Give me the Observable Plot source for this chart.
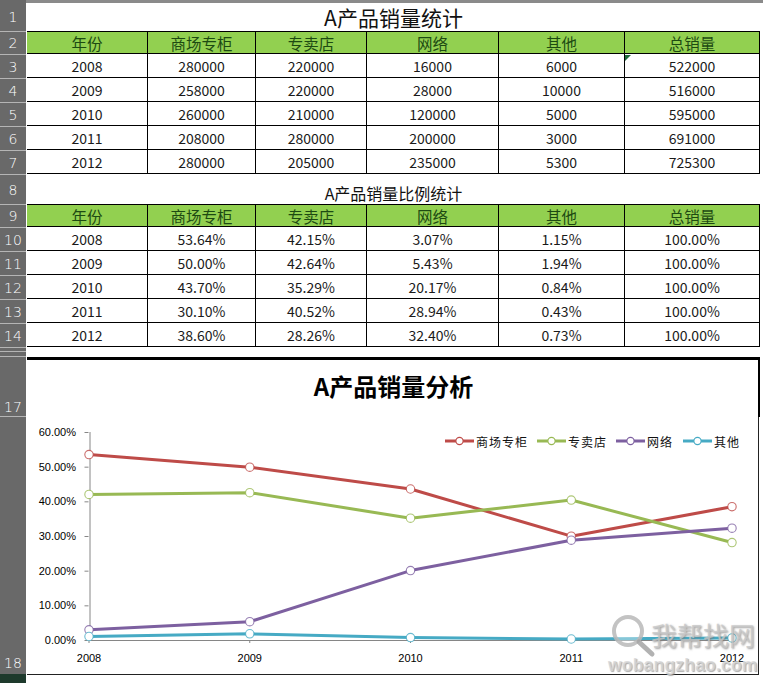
<!DOCTYPE html>
<html><head><meta charset="utf-8">
<script src="https://cdn.jsdelivr.net/npm/d3@7"></script>
<script src="https://cdn.jsdelivr.net/npm/@observablehq/plot@0.6"></script>
<style>
html,body{margin:0;padding:0;background:#fff;width:763px;height:683px;overflow:hidden;font-family:"Noto Sans CJK SC","Noto Sans",sans-serif;}
.b{position:absolute;box-sizing:border-box;}
.c{position:absolute;box-sizing:border-box;display:flex;align-items:center;justify-content:center;white-space:nowrap;color:#1a1a1a;font-size:14px;}
.h{background:#92d050;color:#1d4a12;font-size:15.5px;}
.g{position:absolute;left:0;width:26px;box-sizing:border-box;color:#fff;font-size:14px;display:flex;justify-content:center;align-items:center;font-family:"DejaVu Sans",sans-serif;font-weight:300;border-bottom:1px solid #b5b5b5;}
#chart{position:absolute;left:0;top:358px;}
#chart svg{display:block;background:transparent;}
</style></head>
<body>
<script>
// Data
const years = [2008, 2009, 2010, 2011, 2012];
const headers = ["年份", "商场专柜", "专卖店", "网络", "其他", "总销量"];
const seriesNames = ["商场专柜", "专卖店", "网络", "其他"];
const seriesColors = ["#BE4B48", "#98B954", "#7D60A0", "#46AAC4"];
const counter = [280000, 258000, 260000, 208000, 280000];
const store = [220000, 220000, 210000, 280000, 205000];
const online = [16000, 28000, 120000, 200000, 235000];
const other = [6000, 10000, 5000, 3000, 5300];
const total = [522000, 516000, 595000, 691000, 725300];
const counterPct = [53.64, 50.00, 43.70, 30.10, 38.60];
const storePct = [42.15, 42.64, 35.29, 40.52, 28.26];
const onlinePct = [3.07, 5.43, 20.17, 28.94, 32.40];
const otherPct = [1.15, 1.94, 0.84, 0.43, 0.73];
const totalPct = [100, 100, 100, 100, 100];
const yTicks = [0, 10, 20, 30, 40, 50, 60];
const title1 = "A产品销量统计", title2 = "A产品销量比例统计", chartTitle = "A产品销量分析";

// Sheet layout
const colX = [27, 148, 256, 367, 499, 625, 760];
const rowNums = [[1,3,32],[2,32,55],[3,55,79],[4,79,103],[5,103,127],[6,127,151],[7,151,175],[8,175,205],[9,205,228],[10,228,252],[11,252,276],[12,276,300],[13,300,324],[14,324,348],[null,348,352],[null,352,357],[17,357,417],[18,417,674]];
const add = (cls, l, t, w, h, txt, style) => {
  const d = document.createElement("div");
  d.className = cls;
  Object.assign(d.style, {left:l+"px", top:t+"px", width:w+"px", height:h+"px"}, style||{});
  if (txt !== undefined && txt !== null) d.textContent = txt;
  document.body.appendChild(d);
  return d;
};
// gutter
add("b", 0, 0, 763, 3, null, {background:"#8a8a8a"});
add("b", 0, 0, 26, 683, null, {background:"#696969"});
rowNums.forEach(([n,t,b]) => {
  const d = add("g", 0, t, 26, b-t, n);
  if (n === 17) { d.style.alignItems = "flex-end"; d.style.paddingBottom = "1px"; }
  if (n === 18) { d.style.alignItems = "flex-end"; d.style.paddingBottom = "3px"; d.style.borderBottom = "none"; }
});
add("g", 0, 674, 26, 9, null, {background:"#1e3a2c", borderBottom:"none"});

function table(top, rows) {
  const rowH = i => i === 0 ? 23 : 24;
  let y = top;
  rows.forEach((r, i) => {
    r.forEach((v, j) => {
      const d = add("c" + (i === 0 ? " h" : ""), colX[j], y, colX[j+1]-colX[j], rowH(i), v);
      d.style.borderRight = "1px solid #000";
      d.style.borderBottom = "1px solid #000";
      d.style.borderTop = i === 0 ? "1px solid #000" : "";
    });
    y += rowH(i);
  });
}
add("c", 27, 3, 733, 28, title1, {fontSize:"21px", color:"#111"});
table(31, [headers].concat(years.map((y,i)=>[y,counter[i],store[i],online[i],other[i],total[i]])));
add("b", 625, 55, 0, 0, null, {borderTop:"6px solid #1d6b3a", borderRight:"6px solid transparent"});
add("c", 27, 175, 733, 29, title2, {fontSize:"16px", color:"#111", paddingTop:"6px"});
const fmt = v => v.toFixed(2) + "%";
table(204, [headers].concat(years.map((y,i)=>[y,fmt(counterPct[i]),fmt(storePct[i]),fmt(onlinePct[i]),fmt(otherPct[i]),fmt(totalPct[i])])));

// Chart frame
add("b", 27, 357, 733, 3, null, {background:"#000"});
add("b", 758, 357, 2, 60, null, {background:"#000"});
add("b", 758, 417, 1, 258, null, {background:"#222"});
add("b", 27, 674, 732, 1, null, {background:"#222"});
add("c", 27, 369, 733, 32, chartTitle, {fontSize:"24px", fontWeight:"700", color:"#000"});

// Chart
const seriesValues = [counterPct, storePct, onlinePct, otherPct];
const long = seriesNames.flatMap((s, k) => years.map((y, i) => ({year:y, series:s, value:seriesValues[k][i]})));
const colorOpt = {domain: seriesNames, range: seriesColors};
const plot = Plot.plot({
  width: 763, height: 325,
  marginLeft: 88.5, marginRight: 31.5, marginTop: 74, marginBottom: 43,
  style: {background:"transparent", fontFamily:'"Liberation Sans","Noto Sans",sans-serif', fontSize:"11px", color:"#000", overflow:"visible"},
  x: {domain:[2008,2012]},
  y: {domain:[0,60]},
  color: colorOpt,
  marks: [
    Plot.ruleX([2008], {stroke:"#868686", dx:1}),
    Plot.ruleY([0], {stroke:"#868686"}),
    Plot.axisY({ticks:yTicks, tickSize:4, tickPadding:9, tickFormat:d=>d.toFixed(2)+"%", label:null, stroke:"#868686", color:"#000", fill:"#000", fontSize:11}),
    Plot.axisX({ticks:years, tickSize:3, tickPadding:11, tickFormat:d=>String(d), label:null, stroke:"#868686", fill:"#000", fontSize:11}),
    Plot.line(long, {x:"year", y:"value", z:"series", stroke:"series", strokeWidth:3, curve:"linear"}),
    Plot.dot(long, {x:"year", y:"value", stroke:"series", r:4.2, fill:"#fff", strokeWidth:1.1, strokeOpacity:0.8})
  ]
});
const host = document.createElement("div");
host.id = "chart";
host.appendChild(plot);
document.body.appendChild(host);

// Legend
const legendX = [445, 537, 616, 683];
seriesNames.forEach((s, k) => {
  const wrap = add("b", legendX[k], 432, 110, 18, null, {display:"flex", alignItems:"center"});
  wrap.innerHTML = `<svg width="29" height="18" style="flex:none"><line x1="0" x2="29" y1="9" y2="9" stroke="${seriesColors[k]}" stroke-width="3"/><circle cx="14.5" cy="9" r="3.6" fill="#fff" stroke="${seriesColors[k]}" stroke-width="1.1"/></svg><span style="font-size:12px;letter-spacing:1px;margin-left:2px;color:#111;white-space:nowrap">${s}</span>`;
});

// Watermark
const wm = add("b", 608, 611, 155, 70, null, {pointerEvents:"none"});
wm.innerHTML = `<svg width="155" height="70" style="position:absolute;left:0;top:0;overflow:visible">
<circle cx="20" cy="20" r="14" fill="rgba(255,255,255,.35)" stroke="rgba(185,185,185,.85)" stroke-width="4"/>
<line x1="31" y1="31" x2="44" y2="43" stroke="rgba(165,165,165,.85)" stroke-width="5" stroke-linecap="round"/></svg>
<div style="position:absolute;left:43px;top:8px;font-size:26px;line-height:32px;font-weight:400;color:rgba(200,200,200,.8);text-shadow:1px 1px 2px rgba(120,120,120,.7);white-space:nowrap">我帮找网</div>
<div style="position:absolute;left:0;top:44px;font-size:17.5px;line-height:20px;font-weight:700;letter-spacing:.2px;color:rgba(215,215,215,.8);text-shadow:1px 1px 1px rgba(140,140,140,.7);font-family:'Liberation Sans',sans-serif;white-space:nowrap">wobangzhao.com</div>`;
</script>
</body></html>
